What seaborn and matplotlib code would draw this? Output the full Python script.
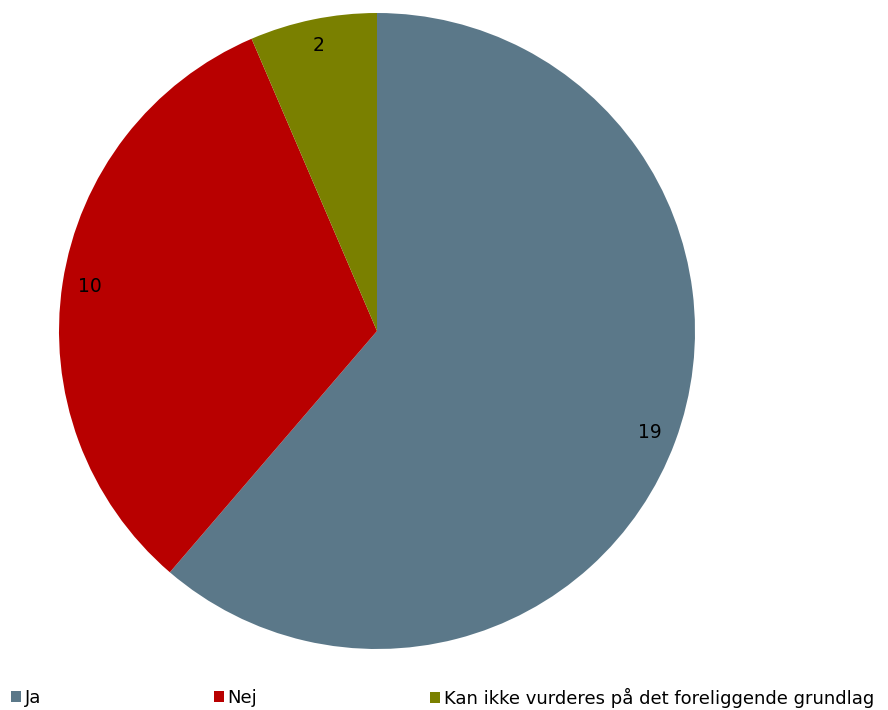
import seaborn as sns
import matplotlib
matplotlib.use("Agg")
import matplotlib.pyplot as plt
from matplotlib.patches import Patch

# data
categories = ["Ja", "Nej", "Kan ikke vurderes på det foreliggende grundlag"]
counts = [19, 10, 2]
colors = ["#5b7889", "#b80000", "#7a8000"]

sns.set_style("white")
plt.rcParams['font.family'] = ['DejaVu Sans']
plt.rcParams['text.color'] = 'black'
palette = sns.color_palette(colors)

fig = plt.figure(figsize=(8.88, 7.10), dpi=100)
# pie centre ~ (377, 331) px, radius ~318 px
ax = fig.add_axes([59 / 888, (710 - 331 - 318) / 710, 636 / 888, 636 / 710])

wedges, texts = ax.pie(
    counts,
    colors=palette,
    startangle=90,
    counterclock=False,
    labels=[str(c) for c in counts],
    labeldistance=0.915,
    textprops={"fontsize": 13.5, "color": "black"},
    wedgeprops={"linewidth": 0},
)
for t in texts:
    t.set_ha("center")
    t.set_va("center")
ax.set_xlim(-1, 1)
ax.set_ylim(-1, 1)
ax.set_aspect("equal")
ax.axis("off")

# legend entries spread along the bottom
legend_x = [11, 214, 430]
for name, col, x in zip(categories, palette, legend_x):
    fig.legend(
        handles=[Patch(facecolor=col, edgecolor="none")],
        labels=[name],
        loc="center left",
        bbox_to_anchor=(x / 888, 1 - 698 / 710),
        frameon=False,
        fontsize=13,
        labelcolor="black",
        handlelength=0.55,
        handleheight=0.55,
        handletextpad=0.2,
        borderaxespad=0,
        borderpad=0,
    )

fig.savefig("out.png", dpi=100)
